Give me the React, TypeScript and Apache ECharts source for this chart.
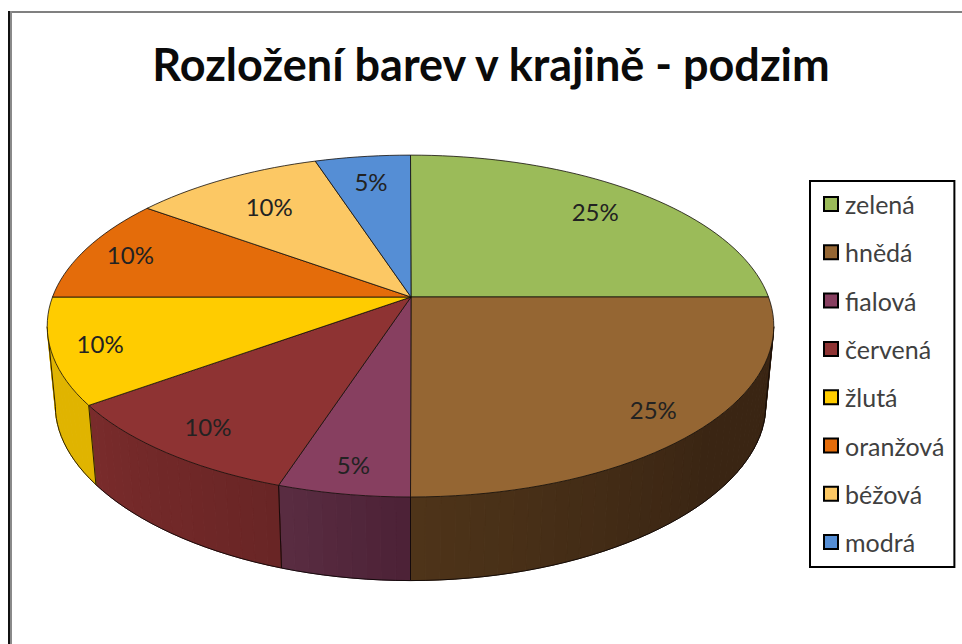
import React, { useEffect, useRef } from "react";
import * as echarts from "echarts";

const titleText = "Rozložení barev v krajině - podzim";
const categories = ["zelená", "hnědá", "fialová", "červená", "žlutá", "oranžová", "béžová", "modrá"];
const values = [25, 25, 5, 10, 10, 10, 10, 5];
const topColors = ["#9BBB59", "#956633", "#873F60", "#8E3333", "#FFCC00", "#E46C0A", "#FCC864", "#558ED5"];
const sideFrom = ["#5E7136", "#4E3419", "#5A2D42", "#792B2B", "#E0B400", "#8A4106", "#977A3C", "#335681"];
const sideTo = ["#5E7136", "#3A2513", "#4C2136", "#692525", "#E0B400", "#8A4106", "#977A3C", "#335681"];
const sideRamp = [1, 0.6, 1, 1, 1, 1, 1, 1];
const labelRadius = [0.8, 0.86, 0.87, 0.85, 0.87, 0.86, 0.74, 0.8];

const FONT = "Lato";
const total = values.reduce((a, b) => a + b, 0);
const startAngles = values.map((_, i) => (values.slice(0, i).reduce((a, b) => a + b, 0) / total) * 360);

const CX = 410.5;
const topPlane = { y0: 297, mx: 358, ky: 166, cx: 0.17, cy: 0.17 };
const bottomPlane = { y0: 378, mx: 350, ky: 158, cx: 0.17, cy: 0.22 };
const TANGENT_RIGHT = 100;
const TANGENT_LEFT = 260;

function project(deg: number, r: number, p: typeof topPlane): number[] {
  const a = (deg * Math.PI) / 180;
  const u = Math.sin(a) * r;
  const v = Math.cos(a) * r;
  return [CX + (p.mx * u) / (1 + p.cx * v), p.y0 - (p.ky * v) / (1 + p.cy * v)];
}

function hex(c: string) {
  return [1, 3, 5].map((i) => parseInt(c.slice(i, i + 2), 16));
}
function mix(a: string, b: string, t: number) {
  const A = hex(a);
  const B = hex(b);
  return `rgb(${A.map((v, i) => Math.round(v + (B[i] - v) * t)).join(",")})`;
}

function arc(from: number, to: number, p: typeof topPlane) {
  const pts: number[][] = [];
  const steps = Math.max(2, Math.ceil((to - from) / 2));
  for (let i = 0; i <= steps; i++) pts.push(project(from + ((to - from) * i) / steps, 1, p));
  return pts;
}

const topSeries = categories.map((name, i) => ({
  type: "custom",
  name,
  coordinateSystem: "none",
  silent: true,
  z: 3,
  itemStyle: { color: topColors[i] },
  data: [[values[i]]],
  renderItem: (_: any, api: any) => {
    const v = api.value(0);
    const a0 = startAngles[i];
    const a1 = a0 + (v / total) * 360;
    const mid = (a0 + a1) / 2;
    const [lx, ly] = project(mid, labelRadius[i], topPlane);
    return {
      type: "group",
      children: [
        {
          type: "polygon",
          shape: { points: [[411, topPlane.y0], ...arc(a0, a1, topPlane)] },
          style: { fill: topColors[i], stroke: "rgba(20,15,10,0.8)", lineWidth: 1 },
        },
        {
          type: "text",
          z2: 5,
          style: {
            text: `${v}%`,
            x: lx,
            y: ly,
            align: "center",
            verticalAlign: "middle",
            font: `24px ${FONT}`,
            fill: "#222222",
          },
        },
      ],
    };
  },
}));

const sideSeries = categories.map((name, i) => ({
  type: "custom",
  name,
  coordinateSystem: "none",
  silent: true,
  z: 2,
  itemStyle: { color: topColors[i] },
  data: [[values[i]]],
  renderItem: (_: any, api: any) => {
    const v = api.value(0);
    const start = startAngles[i];
    const a0 = Math.max(start, TANGENT_RIGHT);
    const a1 = Math.min(start + (v / total) * 360, TANGENT_LEFT);
    if (a1 <= a0) return { type: "group", children: [] };
    const steps = Math.max(2, Math.ceil((a1 - a0) / 2));
    const children: any[] = [];
    for (let s = 0; s < steps; s++) {
      const b0 = a0 + ((a1 - a0) * s) / steps;
      const b1 = a0 + ((a1 - a0) * (s + 1)) / steps;
      // darkest towards the right of the picture, lightest at the left end of each slice
      const f = 1 - (s + 0.5) / steps;
      const fill = mix(sideFrom[i], sideTo[i], Math.min(1, f / sideRamp[i]));
      children.push({
        type: "polygon",
        shape: {
          points: [project(b0, 1, topPlane), project(b1, 1, topPlane), project(b1, 1, bottomPlane), project(b0, 1, bottomPlane)],
        },
        style: { fill, stroke: fill, lineWidth: 1 },
      });
    }
    const edge = { stroke: "rgba(10,5,5,0.85)", lineWidth: 1, fill: "none" };
    children.push({ type: "polyline", shape: { points: arc(a0, a1, bottomPlane) }, style: edge });
    [a0, a1].forEach((a) => {
      children.push({
        type: "line",
        shape: {
          x1: project(a, 1, topPlane)[0],
          y1: project(a, 1, topPlane)[1],
          x2: project(a, 1, bottomPlane)[0],
          y2: project(a, 1, bottomPlane)[1],
        },
        style: edge,
      });
    });
    return { type: "group", children };
  },
}));

export default function App() {
  const ref = useRef<HTMLDivElement>(null);
  useEffect(() => {
    const chart = echarts.init(ref.current!, null, { renderer: "svg" });
    chart.setOption({
      animation: false,
      backgroundColor: "#ffffff",
      title: {
        text: titleText,
        left: 486,
        top: 36,
        textAlign: "center",
        textStyle: { fontFamily: FONT, fontWeight: "bold", fontSize: 45, color: "#0a0a0a" },
      },
      legend: {
        show: true,
        data: categories,
        orient: "vertical",
        left: 810,
        top: 181,
        icon: "rect",
        itemWidth: 14,
        itemHeight: 14,
        itemGap: 22.3,
        padding: [10, 10, 12, 13],
        backgroundColor: "#ffffff",
        borderColor: "#000000",
        borderWidth: 2,
        selectedMode: false,
        itemStyle: { borderColor: "#000000", borderWidth: 2 },
        textStyle: { fontFamily: FONT, fontSize: 25, lineHeight: 26, color: "#404040", padding: [0, 0, 0, 2] },
      },
      graphic: [
        { type: "rect", silent: true, z: 10, shape: { x: 8, y: 11, width: 954, height: 2 }, style: { fill: "#808080" } },
        { type: "rect", silent: true, z: 10, shape: { x: 8, y: 11, width: 2, height: 633 }, style: { fill: "#111111" } },
        { type: "rect", silent: true, z: 10, shape: { x: 10, y: 11, width: 2, height: 633 }, style: { fill: "#8a8a8a" } },
      ],
      series: [...topSeries, ...sideSeries],
    });
    return () => chart.dispose();
  }, []);
  return <div ref={ref} style={{ position: "absolute", left: 0, top: 0, width: 962, height: 644 }} />;
}
